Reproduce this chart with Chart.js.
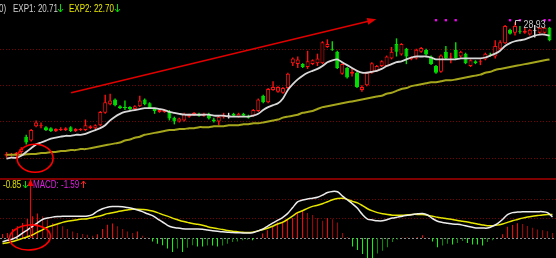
<!DOCTYPE html>
<html>
<head>
<meta charset="utf-8">
<script src="https://cdn.jsdelivr.net/npm/chart.js@4.4.0/dist/chart.umd.min.js"></script>
<style>
  html, body { margin: 0; padding: 0; background: #000; }
  #wrap { position: relative; width: 556px; height: 258px; overflow: hidden; background: #000; }
  #priceChart { position: absolute; left: 0; top: 0; }
  #macdChart { position: absolute; left: 0; top: 177px; }
</style>
</head>
<body>
<div id="wrap">
  <canvas id="priceChart" width="556" height="177"></canvas>
  <canvas id="macdChart" width="556" height="81"></canvas>
</div>
<script>
// daily candles
const opens = [
  14.21, 14.32, 14.32, 14.63, 16.32, 15.89, 17.47, 17.47, 17.37, 17.26,
  16.95, 17.05, 17.05, 17.37, 16.95, 17.05, 17.05, 17.26, 17.26, 17.58,
  18.95, 19.89, 20.42, 19.68, 19.58, 19.58, 19.37, 19.68, 20.42, 20.00,
  19.37, 19.05, 19.05, 19.05, 18.42, 18.00, 18.11, 18.53, 18.74, 18.84,
  18.63, 18.84, 18.21, 18.00, 18.53, 18.63, 18.84, 18.53, 18.84, 18.63,
  18.63, 19.16, 20.84, 20.11, 21.47, 21.26, 21.16, 21.68, 24.42, 24.32,
  24.32, 24.00, 24.32, 24.42, 24.42, 26.21, 26.00, 25.68, 23.26, 23.89,
  23.26, 23.37, 21.47, 22.00, 23.37, 23.58, 24.11, 24.11, 24.95, 26.53,
  25.37, 26.00, 24.84, 24.95, 25.68, 25.89, 25.16, 24.11, 23.47, 25.68,
  25.05, 25.89, 25.16, 25.47, 24.11, 24.63, 24.53, 24.84, 25.47, 25.16,
  26.00, 26.63, 28.11, 27.79, 28.00, 27.79, 27.58, 28.00, 27.79, 27.79,
  28.32
];
const highs = [
  14.63, 14.53, 14.63, 15.16, 16.53, 17.16, 18.11, 17.89, 17.47, 17.37,
  17.26, 17.37, 17.37, 17.47, 17.26, 17.26, 18.21, 17.58, 17.68, 19.16,
  20.95, 21.05, 20.53, 19.79, 20.32, 19.68, 19.79, 20.84, 20.53, 20.11,
  19.47, 19.37, 19.37, 19.26, 18.53, 18.42, 18.95, 18.84, 19.05, 18.95,
  18.95, 18.95, 18.42, 18.63, 18.95, 18.95, 18.95, 18.95, 18.95, 18.74,
  19.37, 20.53, 20.95, 21.68, 22.42, 21.89, 21.79, 23.37, 25.05, 25.16,
  24.42, 25.79, 24.84, 25.47, 26.84, 27.05, 26.84, 25.79, 24.42, 24.00,
  23.89, 23.47, 22.00, 23.47, 24.53, 24.21, 24.74, 25.26, 26.21, 27.16,
  26.63, 26.11, 25.16, 26.00, 26.21, 26.00, 25.26, 24.21, 25.37, 26.32,
  25.58, 26.74, 25.79, 25.58, 24.84, 24.74, 24.84, 25.58, 25.58, 26.95,
  26.95, 28.63, 28.21, 28.93, 28.53, 28.42, 28.21, 28.63, 28.42, 28.42,
  28.42
];
const lows = [
  14.00, 14.11, 14.21, 14.42, 15.47, 15.79, 17.37, 17.26, 16.95, 16.84,
  16.84, 16.95, 16.95, 16.84, 16.84, 16.95, 16.95, 17.16, 17.16, 17.47,
  18.84, 19.79, 19.68, 19.37, 19.26, 19.26, 19.26, 19.58, 19.79, 19.37,
  18.84, 18.95, 18.95, 18.11, 17.68, 17.89, 18.00, 18.42, 18.63, 18.53,
  18.53, 18.21, 17.89, 17.58, 18.32, 18.32, 18.53, 18.42, 18.53, 18.32,
  18.53, 19.05, 20.00, 20.00, 21.37, 21.16, 21.05, 21.58, 24.11, 23.89,
  23.89, 23.79, 24.21, 24.11, 24.32, 26.11, 25.79, 23.79, 23.16, 22.74,
  22.95, 21.68, 21.26, 21.89, 23.26, 23.47, 24.00, 24.00, 24.84, 25.16,
  25.26, 24.32, 24.74, 24.84, 25.58, 25.26, 24.21, 23.26, 23.37, 24.84,
  24.42, 24.84, 25.05, 24.32, 24.00, 24.32, 24.21, 24.74, 25.16, 24.95,
  25.89, 26.53, 27.58, 27.47, 27.68, 27.68, 27.47, 27.26, 27.68, 27.68,
  26.84
];
const closes = [
  14.42, 14.42, 14.53, 14.95, 15.68, 17.05, 17.89, 17.58, 17.05, 16.95,
  17.16, 17.16, 17.26, 16.95, 17.16, 17.16, 17.58, 17.47, 17.58, 19.05,
  20.11, 20.32, 19.79, 19.47, 19.47, 19.37, 19.68, 20.32, 19.89, 19.47,
  19.16, 19.26, 19.26, 18.32, 18.00, 18.32, 18.84, 18.74, 18.95, 18.63,
  18.84, 18.32, 18.00, 18.53, 18.74, 18.63, 18.63, 18.84, 18.63, 18.42,
  19.26, 20.42, 20.11, 21.58, 21.79, 21.79, 21.68, 23.26, 24.95, 24.84,
  24.00, 24.63, 24.74, 24.95, 26.74, 26.53, 25.89, 23.89, 24.32, 22.84,
  23.47, 21.79, 21.79, 23.37, 24.42, 24.11, 24.63, 25.16, 25.68, 25.68,
  26.53, 25.16, 25.05, 25.89, 26.11, 25.37, 24.32, 23.37, 25.26, 24.95,
  25.16, 24.95, 25.68, 24.42, 24.74, 24.42, 24.63, 25.47, 25.37, 26.32,
  26.74, 28.53, 27.68, 28.53, 27.89, 28.00, 28.11, 28.00, 28.32, 28.32,
  26.95
];
// EXP1 (white) and EXP2 (yellow) averages
const exp1 = [
  13.89, 14.00, 14.00, 14.21, 14.63, 15.05, 15.47, 15.68, 15.89, 16.11,
  16.21, 16.32, 16.42, 16.42, 16.53, 16.53, 16.63, 16.84, 17.05, 17.26,
  17.58, 18.11, 18.53, 18.84, 19.05, 19.16, 19.26, 19.37, 19.47, 19.47,
  19.47, 19.37, 19.26, 19.05, 18.95, 18.84, 18.74, 18.74, 18.74, 18.74,
  18.74, 18.74, 18.63, 18.63, 18.63, 18.53, 18.53, 18.53, 18.53, 18.53,
  18.63, 18.84, 19.26, 19.58, 19.79, 20.00, 20.53, 21.47, 22.11, 22.63,
  23.05, 23.37, 23.58, 23.79, 24.11, 24.53, 24.74, 24.84, 24.53, 24.21,
  23.89, 23.58, 23.37, 23.37, 23.47, 23.58, 23.79, 24.11, 24.32, 24.53,
  24.63, 24.84, 25.05, 25.16, 25.16, 25.16, 25.05, 24.84, 24.84, 24.84,
  24.84, 24.84, 24.95, 24.95, 24.95, 24.95, 24.95, 25.05, 25.26, 25.47,
  25.79, 26.32, 26.63, 26.84, 26.95, 27.05, 27.26, 27.47, 27.58, 27.58,
  27.47
];
const exp2 = [
  14.32, 14.32, 14.32, 14.32, 14.37, 14.42, 14.42, 14.53, 14.53, 14.63,
  14.63, 14.74, 14.74, 14.84, 14.84, 14.95, 14.95, 15.05, 15.16, 15.26,
  15.37, 15.47, 15.58, 15.68, 15.89, 16.00, 16.21, 16.32, 16.53, 16.63,
  16.74, 16.84, 16.95, 17.05, 17.05, 17.16, 17.16, 17.26, 17.26, 17.37,
  17.37, 17.37, 17.47, 17.47, 17.47, 17.58, 17.58, 17.58, 17.68, 17.68,
  17.79, 17.79, 17.89, 18.00, 18.11, 18.21, 18.42, 18.53, 18.63, 18.74,
  18.95, 19.05, 19.16, 19.37, 19.58, 19.68, 19.79, 19.89, 20.00, 20.11,
  20.21, 20.32, 20.42, 20.53, 20.63, 20.74, 20.84, 21.05, 21.16, 21.37,
  21.58, 21.68, 21.89, 22.00, 22.11, 22.21, 22.32, 22.32, 22.42, 22.53,
  22.53, 22.63, 22.74, 22.84, 22.95, 23.05, 23.16, 23.37, 23.47, 23.68,
  23.79, 23.89, 24.00, 24.11, 24.21, 24.32, 24.42, 24.53, 24.63, 24.74,
  24.84
];
// MACD panel
const dif = [
  -0.19, -0.12, -0.05, 0.07, 0.25, 0.42, 0.60, 0.78, 0.95, 1.02,
  1.07, 1.10, 1.12, 1.12, 1.12, 1.12, 1.12, 1.13, 1.20, 1.38,
  1.50, 1.58, 1.61, 1.61, 1.60, 1.56, 1.51, 1.44, 1.35, 1.24,
  1.15, 0.98, 0.82, 0.65, 0.55, 0.51, 0.48, 0.46, 0.46, 0.46,
  0.45, 0.41, 0.37, 0.34, 0.32, 0.30, 0.28, 0.27, 0.26, 0.25,
  0.27, 0.35, 0.45, 0.60, 0.76, 0.90, 1.05, 1.25, 1.55, 1.85,
  1.95, 2.00, 2.04, 2.09, 2.20, 2.33, 2.39, 2.37, 2.15, 1.95,
  1.75, 1.52, 1.20, 0.97, 0.92, 0.88, 0.88, 0.95, 1.02, 1.07,
  1.12, 1.16, 1.20, 1.24, 1.26, 1.18, 1.00, 0.86, 0.80, 0.76,
  0.72, 0.70, 0.66, 0.60, 0.55, 0.51, 0.51, 0.51, 0.60, 0.74,
  0.95, 1.20, 1.30, 1.33, 1.35, 1.35, 1.35, 1.35, 1.35, 1.30,
  1.08
];
const dea = [
  -0.28, -0.24, -0.18, -0.10, -0.02, 0.06, 0.16, 0.30, 0.42, 0.56,
  0.64, 0.72, 0.80, 0.86, 0.90, 0.94, 0.97, 0.99, 1.04, 1.10,
  1.17, 1.25, 1.30, 1.35, 1.40, 1.44, 1.47, 1.47, 1.46, 1.44,
  1.38, 1.30, 1.20, 1.12, 1.02, 0.94, 0.86, 0.80, 0.74, 0.70,
  0.65, 0.58, 0.52, 0.48, 0.43, 0.39, 0.35, 0.32, 0.29, 0.28,
  0.30, 0.36, 0.42, 0.50, 0.60, 0.72, 0.80, 0.95, 1.12, 1.30,
  1.40, 1.52, 1.62, 1.68, 1.76, 1.86, 1.96, 2.02, 2.04, 1.98,
  1.88, 1.80, 1.66, 1.50, 1.39, 1.30, 1.24, 1.20, 1.17, 1.16,
  1.17, 1.19, 1.21, 1.21, 1.20, 1.17, 1.12, 1.06, 1.03, 0.99,
  0.95, 0.90, 0.86, 0.82, 0.77, 0.72, 0.67, 0.63, 0.63, 0.66,
  0.72, 0.80, 0.88, 0.95, 1.02, 1.08, 1.12, 1.15, 1.18, 1.20,
  1.21
];
const macdHist = [
  0.21, 0.25, 0.46, 0.60, 0.77, 0.98, 1.12, 1.25, 1.12, 0.95,
  0.77, 0.68, 0.60, 0.46, 0.33, 0.25, 0.21, 0.16, 0.11, 0.19,
  0.46, 0.68, 0.74, 0.60, 0.46, 0.33, 0.25, 0.33, 0.12, 0.02,
  -0.18, -0.30, -0.37, -0.54, -0.72, -0.54, -0.72, -0.50, -0.37, -0.44,
  -0.44, -0.38, -0.38, -0.44, -0.38, -0.30, -0.21, -0.18, -0.12, -0.09,
  -0.12, 0.02, 0.23, 0.40, 0.58, 0.79, 0.84, 0.96, 1.02, 1.32,
  1.42, 1.28, 1.18, 1.02, 0.89, 1.02, 0.96, 0.79, 0.26, 0.05,
  -0.44, -0.61, -0.82, -1.05, -1.05, -0.79, -0.65, -0.47, -0.21, -0.08,
  0.03, 0.03, 0.01, 0.04, 0.14, 0.02, -0.18, -0.47, -0.38, -0.30,
  -0.33, -0.26, -0.16, -0.26, -0.33, -0.33, -0.38, -0.21, -0.12, 0.02,
  0.19, 0.58, 0.67, 0.75, 0.72, 0.61, 0.53, 0.44, 0.40, 0.35,
  0.25
];
const days = opens.map((_, i) => 'D' + (i + 1));

// marks drawn on top of the chart
const signalDays = [87, 89, 91, 102, 104, 109, 110];
const signalLevel = 29.16;
const priceGrid = [14, 18, 22, 26];
const macdGrid = [1, 2];
const trendFrom = [13.1, 21.16];
const trendTo = [74.9, 29.26];
const priceCircle = [6.0, 13.95];
const macdCircle = [5.5, 0.03];
const macdPointer = [5.6, 2.97, 0];

const RED = '#ff1010', GREEN = '#00e000';

const candleColor = opens.map((o, i) => closes[i] > o ? RED : closes[i] < o ? GREEN : '#e0e0e0');
const bodyFill = opens.map((o, i) => closes[i] > o ? '#000000' : candleColor[i]);
const bodies = opens.map((o, i) => {
  const lo = Math.min(o, closes[i]), hi = Math.max(o, closes[i]);
  if (hi - lo < 0.08) {
    const mid = (lo + hi) / 2;
    return [mid - 0.04, mid + 0.04];
  }
  return [lo, hi];
});
const wicks = lows.map((l, i) => [l, highs[i]]);
const signals = days.map((_, i) => signalDays.includes(i) ? signalLevel : null);

const histColor = macdHist.map((v, i) => {
  const grow = i === 0 || Math.abs(v) >= Math.abs(macdHist[i - 1]);
  if (v >= 0) return grow ? '#ff0000' : '#a80000';
  return grow ? '#00ff00' : '#009000';
});

function label(ctx, text, x, y, color, size) {
  ctx.save();
  ctx.font = (size || 10) + 'px "Liberation Sans", Arial, sans-serif';
  ctx.fillStyle = color;
  ctx.translate(x, y);
  ctx.scale(0.8, 1);
  ctx.fillText(text, 0, 0);
  ctx.restore();
}

function arrow(ctx, x, top, bottom, color, up) {
  ctx.save();
  ctx.strokeStyle = color;
  ctx.lineWidth = 1;
  ctx.beginPath();
  ctx.moveTo(x, top);
  ctx.lineTo(x, bottom);
  const tip = up ? top : bottom, d = up ? 3 : -3;
  ctx.moveTo(x - 2.5, tip + d);
  ctx.lineTo(x, tip);
  ctx.lineTo(x + 2.5, tip + d);
  ctx.stroke();
  ctx.restore();
}

const panelGrid = {
  id: 'panelGrid',
  beforeDatasetsDraw(chart, args, opts) {
    const { ctx, chartArea, scales: { y } } = chart;
    ctx.save();
    ctx.lineWidth = 1;
    ctx.strokeStyle = '#7a0000';
    ctx.setLineDash([1, 2]);
    opts.levels.forEach(v => {
      const py = Math.round(y.getPixelForValue(v)) + 0.5;
      ctx.beginPath();
      ctx.moveTo(0, py);
      ctx.lineTo(chart.width, py);
      ctx.stroke();
    });
    if (opts.zero) {
      ctx.strokeStyle = '#909090';
      ctx.setLineDash([2, 2]);
      const py = Math.round(y.getPixelForValue(0)) + 0.5;
      ctx.beginPath();
      ctx.moveTo(0, py);
      ctx.lineTo(chart.width, py);
      ctx.stroke();
    }
    ctx.restore();
  }
};

const priceOverlay = {
  id: 'priceOverlay',
  afterDraw(chart) {
    const { ctx, scales: { x, y } } = chart;
    ctx.save();
    // trend arrow
    const x1 = x.getPixelForValue(trendFrom[0]), y1 = y.getPixelForValue(trendFrom[1]);
    const x2 = x.getPixelForValue(trendTo[0]), y2 = y.getPixelForValue(trendTo[1]);
    const a = Math.atan2(y2 - y1, x2 - x1);
    ctx.strokeStyle = '#e00000';
    ctx.fillStyle = '#e00000';
    ctx.lineWidth = 1.5;
    ctx.beginPath();
    ctx.moveTo(x1, y1);
    ctx.lineTo(x2 - 6 * Math.cos(a), y2 - 6 * Math.sin(a));
    ctx.stroke();
    ctx.beginPath();
    ctx.moveTo(x2, y2);
    ctx.lineTo(x2 - 9 * Math.cos(a) + 3.5 * Math.sin(a), y2 - 9 * Math.sin(a) - 3.5 * Math.cos(a));
    ctx.lineTo(x2 - 9 * Math.cos(a) - 3.5 * Math.sin(a), y2 - 9 * Math.sin(a) + 3.5 * Math.cos(a));
    ctx.closePath();
    ctx.fill();
    // circle round the crossing
    ctx.strokeStyle = '#ff0000';
    ctx.lineWidth = 1.6;
    ctx.beginPath();
    ctx.ellipse(x.getPixelForValue(priceCircle[0]) - 1, y.getPixelForValue(priceCircle[1]), 18, 14, 0, 0, Math.PI * 2);
    ctx.stroke();
    // highest price marker
    const top = Math.max(...highs), hi = highs.indexOf(top);
    const hx = Math.round(x.getPixelForValue(hi)) + 0.5, hy = Math.round(y.getPixelForValue(top));
    ctx.strokeStyle = '#c8c8c8';
    ctx.lineWidth = 1;
    ctx.beginPath();
    ctx.moveTo(hx, hy + 3);
    ctx.lineTo(hx, hy - 1.5);
    ctx.lineTo(hx + 5, hy - 1.5);
    ctx.stroke();
    label(ctx, top.toFixed(2), hx + 8, hy + 6, '#c8c8c8', 11);
    // legend text
    label(ctx, '0)', -1, 12, '#d0d0d0');
    label(ctx, 'EXP1: 20.71', 13, 12, '#d0d0d0');
    arrow(ctx, 60.5, 4, 12, GREEN, false);
    label(ctx, 'EXP2: 22.70', 69, 12, '#e8e800');
    arrow(ctx, 117.5, 4, 12, GREEN, false);
    ctx.restore();
  }
};

const macdOverlay = {
  id: 'macdOverlay',
  afterDraw(chart) {
    const { ctx, scales: { x, y } } = chart;
    ctx.save();
    ctx.fillStyle = '#800000';
    ctx.fillRect(0, 1, 556, 2);
    // pointer from the price circle
    const px = Math.round(x.getPixelForValue(macdPointer[0])) + 0.5;
    const pTop = y.getPixelForValue(macdPointer[1]), pBot = y.getPixelForValue(macdPointer[2]);
    ctx.strokeStyle = '#ff0000';
    ctx.fillStyle = '#ff0000';
    ctx.lineWidth = 1;
    ctx.beginPath();
    ctx.moveTo(px, pTop + 4);
    ctx.lineTo(px, pBot);
    ctx.stroke();
    ctx.beginPath();
    ctx.moveTo(px, pTop - 1);
    ctx.lineTo(px - 3, pTop + 6);
    ctx.lineTo(px + 3, pTop + 6);
    ctx.closePath();
    ctx.fill();
    ctx.lineWidth = 1.6;
    ctx.beginPath();
    ctx.ellipse(x.getPixelForValue(macdCircle[0]), y.getPixelForValue(macdCircle[1]), 20.5, 12.5, -0.08, 0, Math.PI * 2);
    ctx.stroke();
    // labels
    label(ctx, '-0.85', 3, 11, '#e0e000');
    arrow(ctx, 25.5, 4, 11, GREEN, false);
    label(ctx, 'MACD: -1.59', 33, 11, '#e020e0');
    arrow(ctx, 83.5, 4, 11, '#ff2020', true);
    ctx.restore();
  }
};

const common = {
  responsive: false,
  animation: false,
  events: [],
  plugins: { legend: { display: false }, tooltip: { enabled: false } }
};

new Chart(document.getElementById('priceChart'), {
  type: 'bar',
  data: {
    labels: days,
    datasets: [
      { type: 'line', label: 'EXP1', data: exp1, borderColor: '#d8d8d8', borderWidth: 1.8, pointRadius: 0, tension: 0.2, order: 0 },
      { type: 'line', label: 'EXP2', data: exp2, borderColor: '#a6a61c', borderWidth: 2, pointRadius: 0, tension: 0.2, order: 0 },
      { type: 'line', label: 'signal', data: signals, showLine: false, pointStyle: 'rect', pointRadius: 1.6,
        backgroundColor: '#ff00ff', borderColor: '#ff00ff', borderWidth: 0, order: 0 },
      { label: 'body', data: bodies, backgroundColor: bodyFill, borderColor: candleColor, borderWidth: 1,
        borderSkipped: false, barThickness: 4, grouped: false, inflateAmount: 0, order: 1 },
      { label: 'wick', data: wicks, backgroundColor: candleColor, borderWidth: 0,
        barThickness: 1.4, grouped: false, inflateAmount: 0, order: 2 }
    ]
  },
  options: {
    ...common,
    layout: { padding: { left: 0.5, right: 0.5, top: 0, bottom: 0 } },
    plugins: { ...common.plugins, panelGrid: { levels: priceGrid } },
    scales: {
      x: { display: false, offset: true },
      y: { display: false, min: 12.316, max: 30.947 }
    }
  },
  plugins: [panelGrid, priceOverlay]
});

new Chart(document.getElementById('macdChart'), {
  type: 'bar',
  data: {
    labels: days,
    datasets: [
      { type: 'line', label: 'DIF', data: dif, borderColor: '#ececec', borderWidth: 1.5, pointRadius: 0, tension: 0.3, order: 0 },
      { type: 'line', label: 'DEA', data: dea, borderColor: '#e6e600', borderWidth: 1.5, pointRadius: 0, tension: 0.3, order: 0 },
      { label: 'MACD', data: macdHist, backgroundColor: histColor, borderWidth: 0,
        barThickness: 1, grouped: false, inflateAmount: 0, order: 1 }
    ]
  },
  options: {
    ...common,
    layout: { padding: { left: 0, right: 1, top: 0, bottom: 0 } },
    plugins: { ...common.plugins, panelGrid: { levels: macdGrid, zero: true } },
    scales: {
      x: { display: false, offset: true },
      y: { display: false, min: -1.026, max: 3.128 }
    }
  },
  plugins: [panelGrid, macdOverlay]
});
</script>
</body>
</html>
